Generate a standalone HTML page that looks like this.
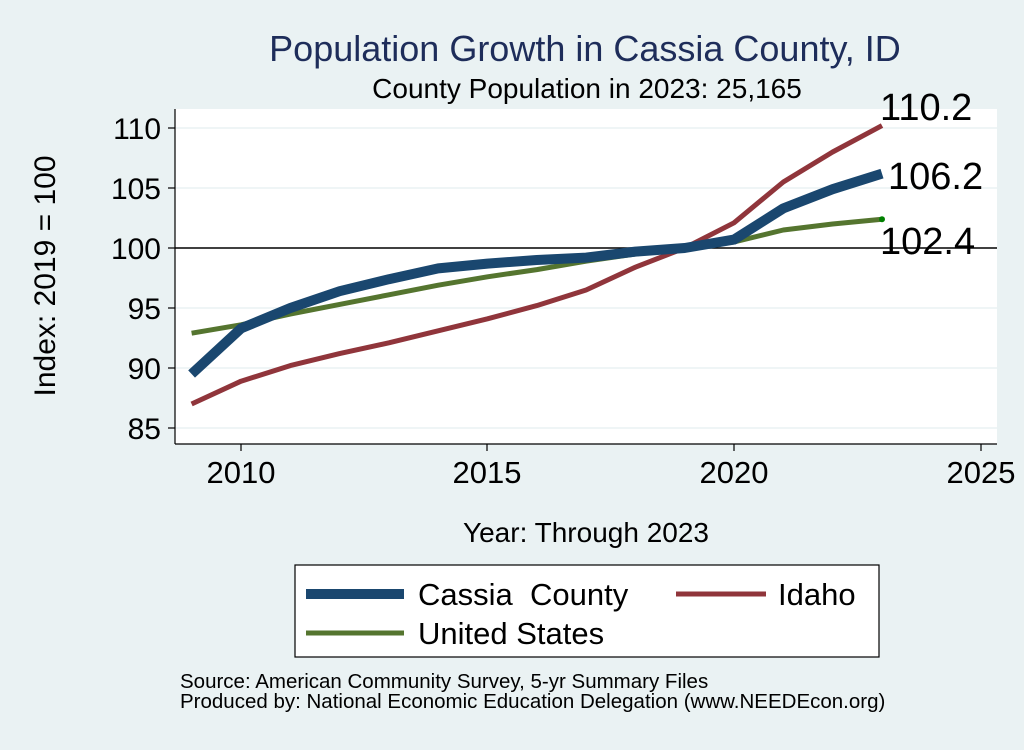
<!DOCTYPE html>
<html><head><meta charset="utf-8"><style>body{margin:0;background:#eaf2f3}</style></head><body>
<svg width="1024" height="745" xmlns="http://www.w3.org/2000/svg" font-family="Liberation Sans, sans-serif">
<rect width="1024" height="745" fill="#eaf2f3"/>
<rect x="175" y="109" width="822" height="335" fill="#fff"/>
<g stroke="#eaf2f3" stroke-width="1.5">
<line x1="175" x2="997" y1="128" y2="128"/><line x1="175" x2="997" y1="188" y2="188"/>
<line x1="175" x2="997" y1="308" y2="308"/><line x1="175" x2="997" y1="368" y2="368"/><line x1="175" x2="997" y1="428" y2="428"/>
</g>
<line x1="175" x2="997" y1="248" y2="248" stroke="#000" stroke-width="1.5"/>
<g stroke="#000" stroke-width="1.2">
<line x1="175" x2="175" y1="109" y2="444"/><line x1="175" x2="997" y1="444" y2="444"/>
<line x1="168" x2="175" y1="128" y2="128"/><line x1="168" x2="175" y1="188" y2="188"/><line x1="168" x2="175" y1="248" y2="248"/>
<line x1="168" x2="175" y1="308" y2="308"/><line x1="168" x2="175" y1="368" y2="368"/><line x1="168" x2="175" y1="428" y2="428"/>
<line x1="241" x2="241" y1="444" y2="451"/><line x1="487" x2="487" y1="444" y2="451"/><line x1="734" x2="734" y1="444" y2="451"/><line x1="981" x2="981" y1="444" y2="451"/>
</g>
<g font-size="30" text-anchor="end" fill="#000">
<text x="161" y="139">110</text><text x="161" y="199">105</text><text x="161" y="259">100</text>
<text x="161" y="319">95</text><text x="161" y="379">90</text><text x="161" y="439">85</text>
</g>
<g font-size="31" text-anchor="middle">
<text x="241" y="483">2010</text><text x="487" y="483">2015</text><text x="734" y="483">2020</text><text x="981" y="483">2025</text>
</g>
<text x="586" y="542" font-size="28" text-anchor="middle">Year: Through 2023</text>
<text transform="translate(55,276) rotate(-90)" font-size="30" text-anchor="middle">Index: 2019 = 100</text>
<text x="585" y="61" font-size="36" fill="#1e2d5a" text-anchor="middle">Population Growth in Cassia County, ID</text>
<text x="587" y="98" font-size="28" text-anchor="middle">County Population in 2023: 25,165</text>
<g fill="none" stroke-linejoin="round">
<polyline stroke="#55752f" stroke-width="5" points="191.6,333.2 241,324.8 290.3,314 339.6,304.4 388.9,294.8 438.2,285.2 487.5,276.8 536.8,269.6 586.1,261.2 635.4,254 684.7,248 734,242 783.3,230 832.6,224 882,219.2"/>
<polyline stroke="#90353b" stroke-width="5" points="191.6,404 241,381.2 290.3,365.6 339.6,353.6 388.9,342.8 438.2,330.8 487.5,318.8 536.8,305.6 586.1,290 635.4,267.2 684.7,248 734,222.8 783.3,182 832.6,152 882,125.6"/>
<polyline stroke="#1a476f" stroke-width="10" points="191.6,374 241,328.4 290.3,308 339.6,291.2 388.9,279.2 438.2,268.4 487.5,263.6 536.8,260 586.1,257.6 635.4,251.6 684.7,248 734,239.6 783.3,208.4 832.6,189.2 882,173.6"/>
</g>
<circle cx="882" cy="219.2" r="3" fill="#008000"/>
<g font-size="38">
<text x="880" y="120">110.2</text><text x="888" y="189">106.2</text><text x="880" y="254">102.4</text>
</g>
<rect x="295" y="565" width="584" height="92" fill="#fff" stroke="#000" stroke-width="1.2"/>
<line x1="306" x2="404" y1="594" y2="594" stroke="#1a476f" stroke-width="10"/>
<line x1="676" x2="766" y1="594" y2="594" stroke="#90353b" stroke-width="5"/>
<line x1="306" x2="404" y1="633" y2="633" stroke="#55752f" stroke-width="5"/>
<g font-size="31"><text x="418" y="605" xml:space="preserve">Cassia  County</text><text x="778" y="605">Idaho</text><text x="418" y="644">United States</text></g>
<g font-size="20.5"><text x="180" y="688">Source: American Community Survey, 5-yr Summary Files</text><text x="180" y="708">Produced by: National Economic Education Delegation (www.NEEDEcon.org)</text></g>
</svg>
</body></html>
